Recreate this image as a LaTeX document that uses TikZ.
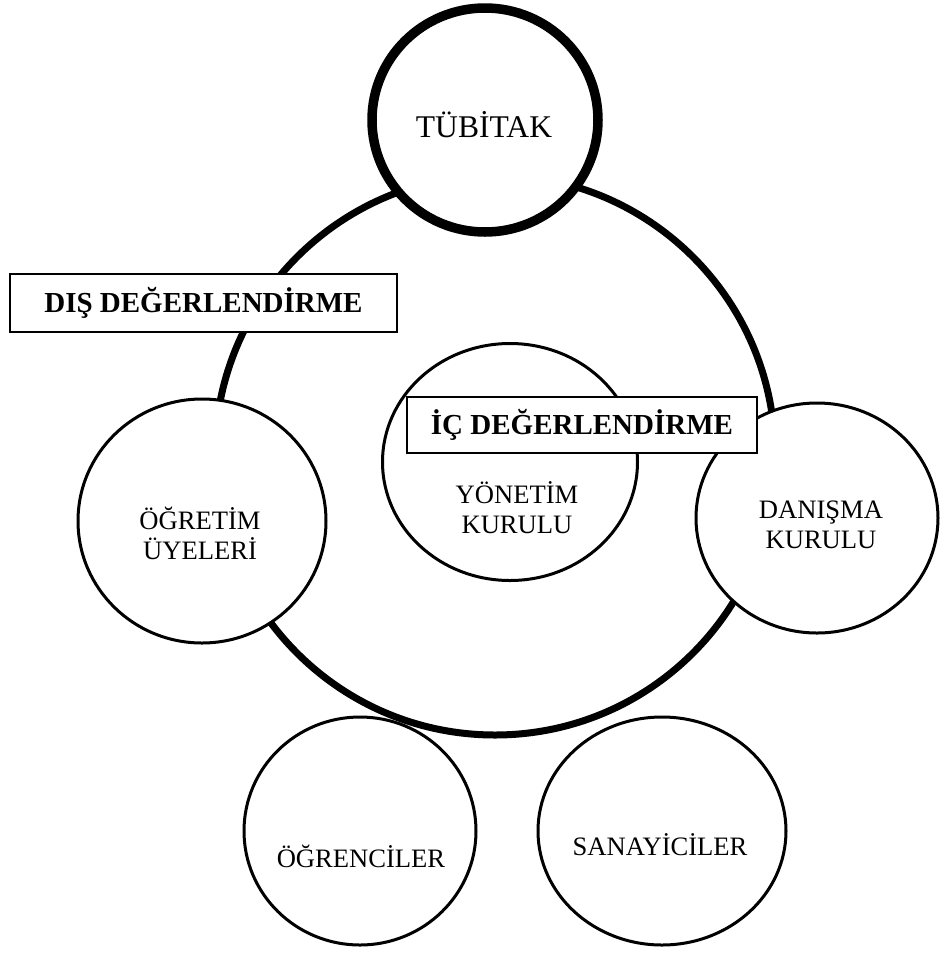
\documentclass[tikz,border=0pt]{standalone}
\usepackage{fontspec}
\setmainfont{Liberation Serif}
\usetikzlibrary{shapes.geometric}
\begin{document}
\begin{tikzpicture}[x=1pt,y=-1pt,
  ring/.style={draw, ellipse, inner sep=0pt, line width=3pt, fill=white},
  lbl/.style={font=\fontsize{26.6}{30}\selectfont, align=center, inner sep=0pt, anchor=base},
  tag/.style={draw, line width=1.8pt, fill=white, font=\bfseries\fontsize{29}{32}\selectfont,
              inner sep=0pt, text height=19.2pt, text depth=0pt}]
\useasboundingbox (0,0) rectangle (941,954);
% lower circles
\node[ring, minimum width=232pt, minimum height=228pt] (ogrenciler) at (360,831) {};
\node[ring, minimum width=248pt, minimum height=228pt] (sanayi) at (662,831) {};
% big ring
\node[draw, circle, line width=7pt, minimum size=560pt, inner sep=0pt] (outer) at (495,455) {};
% circles on the ring
\node[ring, minimum width=248pt, minimum height=244pt] (ogretim) at (202,521) {};
\node[ring, minimum width=242pt, minimum height=230pt] (danisma) at (817,518) {};
\node[ring, line width=9.5pt, minimum width=226pt, minimum height=224pt] (tubitak) at (485,120) {};
\node[ring, minimum width=255pt, minimum height=237pt] (yonetim) at (510,462) {};
% labels
\node[lbl, font=\fontsize{31.6}{34}\selectfont] (tubitakT) at (484,137) {TÜBİTAK};
\node[lbl] (ogretimT) at (200,559) {ÖĞRETİM\\ÜYELERİ};
\node[lbl] (yonetimT) at (517,533) {YÖNETİM\\KURULU};
\node[lbl] (danismaT) at (821,548) {DANIŞMA\\KURULU};
\node[lbl] (ogrencilerT) at (361,867) {ÖĞRENCİLER};
\node[lbl] (sanayiT) at (660,855) {SANAYİCİLER};
% boxes
\node[tag, minimum width=387pt, minimum height=58pt] (dis) at (203.5,303) {DIŞ DEĞERLENDİRME};
\node[tag, minimum width=350pt, minimum height=56pt] (ic) at (582,425) {İÇ DEĞERLENDİRME};
\end{tikzpicture}
\end{document}
